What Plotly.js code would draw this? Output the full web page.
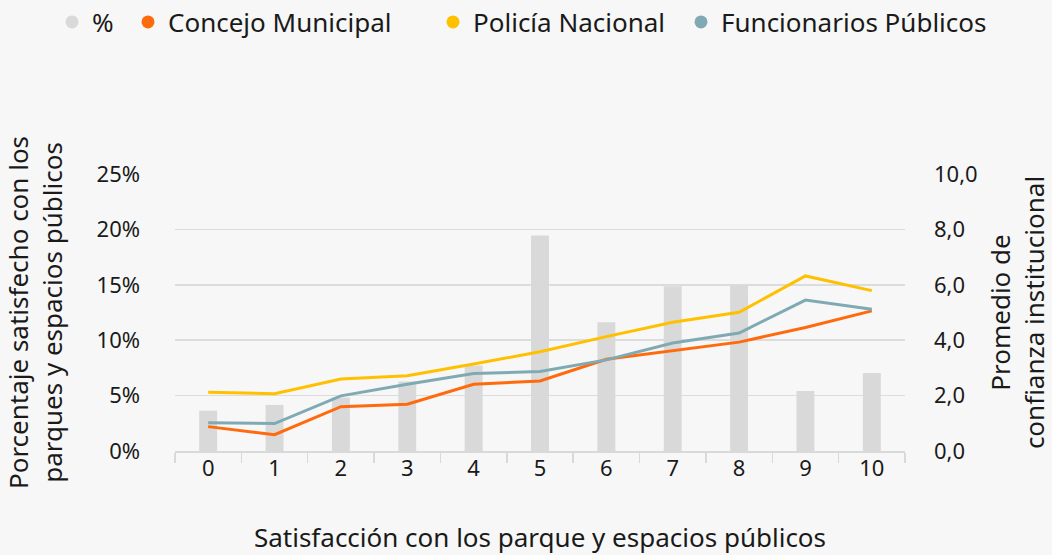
<!DOCTYPE html>
<html><head><meta charset="utf-8">
<script src="https://cdn.plot.ly/plotly-3.0.1.min.js"></script>
<style>html,body{margin:0;padding:0;background:#f7f7f7;}#chart{width:1052px;height:555px;}</style>
</head><body><div id="chart"></div>
<script>
const categories = ["0","1","2","3","4","5","6","7","8","9","10"];
const pctSatisfied = [3.64, 4.16, 4.82, 6.27, 7.71, 19.44, 11.63, 14.86, 14.95, 5.42, 7.05];
const concejoMunicipal = [0.88, 0.59, 1.60, 1.69, 2.41, 2.53, 3.31, 3.63, 3.93, 4.46, 5.06];
const policiaNacional = [2.12, 2.07, 2.60, 2.72, 3.14, 3.58, 4.13, 4.65, 5.01, 6.32, 5.79];
const funcionariosPublicos = [1.02, 0.99, 1.99, 2.41, 2.80, 2.87, 3.29, 3.90, 4.26, 5.45, 5.12];
const seriesNames = ["%", "Concejo Municipal", "Policía Nacional", "Funcionarios Públicos"];
const leftTickVals = [0, 5, 10, 15, 20, 25];
const leftTickText = ["0%", "5%", "10%", "15%", "20%", "25%"];
const rightTickVals = [0, 2, 4, 6, 8, 10];

const FONT = "'Noto Sans', 'Open Sans', sans-serif";
const TXT = "#1a1a1a";
const colors = ["#d9d9d9", "#ff6a0d", "#ffc000", "#80aab3"];
const legendX = [52, 128, 433, 681];

const traces = [
  {type:"bar", x:categories, y:pctSatisfied, name:seriesNames[0], marker:{color:colors[0]}, width:0.27, showlegend:false, yaxis:"y"},
  {type:"scatter", mode:"lines", x:categories, y:concejoMunicipal, name:seriesNames[1], line:{color:colors[1], width:3}, yaxis:"y2", showlegend:false},
  {type:"scatter", mode:"lines", x:categories, y:policiaNacional, name:seriesNames[2], line:{color:colors[2], width:3}, yaxis:"y2", showlegend:false},
  {type:"scatter", mode:"lines", x:categories, y:funcionariosPublicos, name:seriesNames[3], line:{color:colors[3], width:3}, yaxis:"y2", showlegend:false}
];
const legendKeys = ["legend","legend2","legend3","legend4"];
seriesNames.forEach((n,i)=>{
  traces.push({type:"scatter", mode:"markers", x:[null], y:[null], name:n, marker:{color:colors[i], size:13, symbol:"circle"}, legend:legendKeys[i], showlegend:true, yaxis:"y2"});
});

const layout = {
  width:1052, height:555,
  paper_bgcolor:"#f7f7f7", plot_bgcolor:"#f7f7f7",
  margin:{l:175, r:147, t:174, b:104},
  separators:",.",
  font:{family:FONT, size:26, color:TXT},
  xaxis:{
    type:"category", showgrid:false, showline:true, linecolor:"#d9d9d9", linewidth:1.5,
    ticks:"outside", tickson:"boundaries", ticklen:10, tickcolor:"#d9d9d9", tickwidth:1.5,
    ticklabelstandoff:-3,
    tickfont:{size:22, family:FONT, color:TXT},
    title:{text:"Satisfacción con los parque y espacios públicos", font:{size:26, family:FONT, color:TXT}, standoff:50},
    fixedrange:true
  },
  yaxis:{
    range:[0,25], tickvals:leftTickVals, ticktext:leftTickText, showgrid:true, gridcolor:"#dcdcdc", gridwidth:1.5,
    zeroline:false, showline:false, ticks:"", ticklabelstandoff:34,
    tickfont:{size:22, family:FONT, color:TXT},
    title:{text:"Porcentaje satisfecho con los<br>parques y espacios públicos", font:{size:26, family:FONT, color:TXT}, standoff:34}
  },
  yaxis2:{
    range:[0,10], tickvals:rightTickVals, tickformat:".1f", overlaying:"y", side:"right",
    showgrid:false, zeroline:false, showline:false, ticks:"", ticklabelstandoff:28,
    tickfont:{size:22, family:FONT, color:TXT},
    title:{text:"Promedio de<br>confianza institucional", font:{size:26, family:FONT, color:TXT}, standoff:28}
  },
  showlegend:true
};
legendKeys.forEach((k,i)=>{
  layout[k] = {xref:"container", yref:"container", x:legendX[i]/1052, y:1-22/555, xanchor:"left", yanchor:"middle",
    orientation:"h", bgcolor:"rgba(0,0,0,0)", itemwidth:30, font:{size:26, family:FONT, color:TXT}};
});

Plotly.newPlot("chart", traces, layout, {displayModeBar:false, staticPlot:true});
</script></body></html>
